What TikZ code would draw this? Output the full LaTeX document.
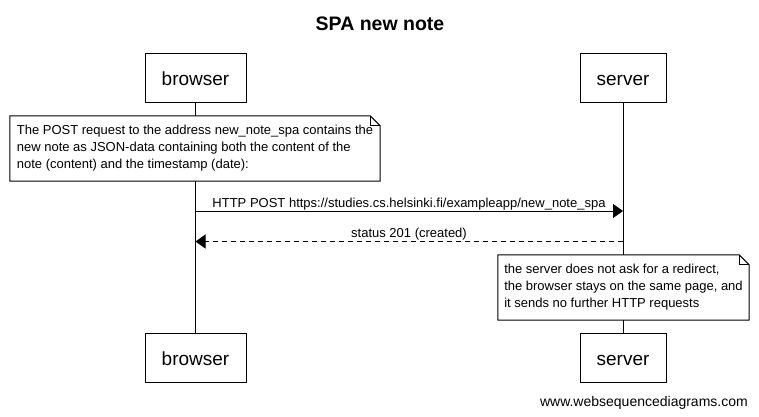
\documentclass[tikz,border=0pt]{standalone}
\usepackage{fontspec}
\setmainfont{Liberation Sans}
\usetikzlibrary{arrows.meta}
\begin{document}
\begin{tikzpicture}[x=1pt,y=1pt,
  actorBox/.style={draw=drawColor,line width=1pt,fill=white,minimum height=49pt,inner sep=0pt,
    text height=15pt,text depth=0pt,font=\fontsize{19}{23}\selectfont},
  noteBox/.style={fill=white,minimum height=65pt,inner sep=0pt,align=left,font=\fontsize{13}{17}\selectfont},
  noteLine/.style={draw=drawColor,line width=1pt,line join=miter},
  msgLabel/.style={anchor=base,inner sep=0pt,font=\fontsize{13}{16}\selectfont},
  msgLine/.style={draw=drawColor,line width=1pt,-{Triangle[length=10pt,width=14pt]}}]
\definecolor{drawColor}{RGB}{0,0,0}
\path[use as bounding box,fill=white] (0,0) rectangle (759,416);

\node[anchor=base,inner sep=0pt,font=\bfseries\fontsize{19.5}{24}\selectfont] (title) at (380,385) {SPA new note};

% participants
\node[actorBox,minimum width=101pt] (browserTop) at (195.5,338.3) {browser};
\node[actorBox,minimum width=86pt] (serverTop) at (623,338.3) {server};
\node[actorBox,minimum width=101pt] (browserBottom) at (195.5,58) {browser};
\node[actorBox,minimum width=86pt] (serverBottom) at (623,58) {server};

\draw[drawColor,line width=1pt] (browserTop) -- (browserBottom);
\draw[drawColor,line width=1pt] (serverTop) -- (serverBottom);

% notes
\node[noteBox,minimum width=370pt] (postNote) at (195,267.5) {The POST request to the address new\_note\_spa contains the\\new note as JSON-data containing both the content of the\\note (content) and the timestamp (date):};
\draw[noteLine] (postNote.south west) -- (postNote.north west) -- ([xshift=-10pt]postNote.north east) -- ([yshift=-10pt]postNote.north east) -- (postNote.south east) -- cycle;
\draw[noteLine] ([xshift=-10pt]postNote.north east) |- ([yshift=-10pt]postNote.north east);

\node[noteBox,minimum width=251pt] (stayNote) at (623.5,128.5) {the server does not ask for a redirect,\\the browser stays on the same page, and\\it sends no further HTTP requests};
\draw[noteLine] (stayNote.south west) -- (stayNote.north west) -- ([xshift=-10pt]stayNote.north east) -- ([yshift=-10pt]stayNote.north east) -- (stayNote.south east) -- cycle;
\draw[noteLine] ([xshift=-10pt]stayNote.north east) |- ([yshift=-10pt]stayNote.north east);

% messages
\coordinate (postStart) at (195.5,205);
\coordinate (postEnd) at (623,205);
\draw[msgLine] (postStart) -- (postEnd);
\node[msgLabel] (postLabel) at (409,209) {HTTP POST https://studies.cs.helsinki.fi/exampleapp/new\_note\_spa};

\coordinate (statusStart) at (623,174.5);
\coordinate (statusEnd) at (195.5,174.5);
\draw[msgLine,dash pattern=on 5pt off 4pt] (statusStart) -- (statusEnd);
\node[msgLabel] (statusLabel) at (409,179) {status 201 (created)};

\node[anchor=base east,inner sep=0pt,font=\fontsize{14}{17}\selectfont] (credit) at (748,10) {www.websequencediagrams.com};
\end{tikzpicture}
\end{document}
